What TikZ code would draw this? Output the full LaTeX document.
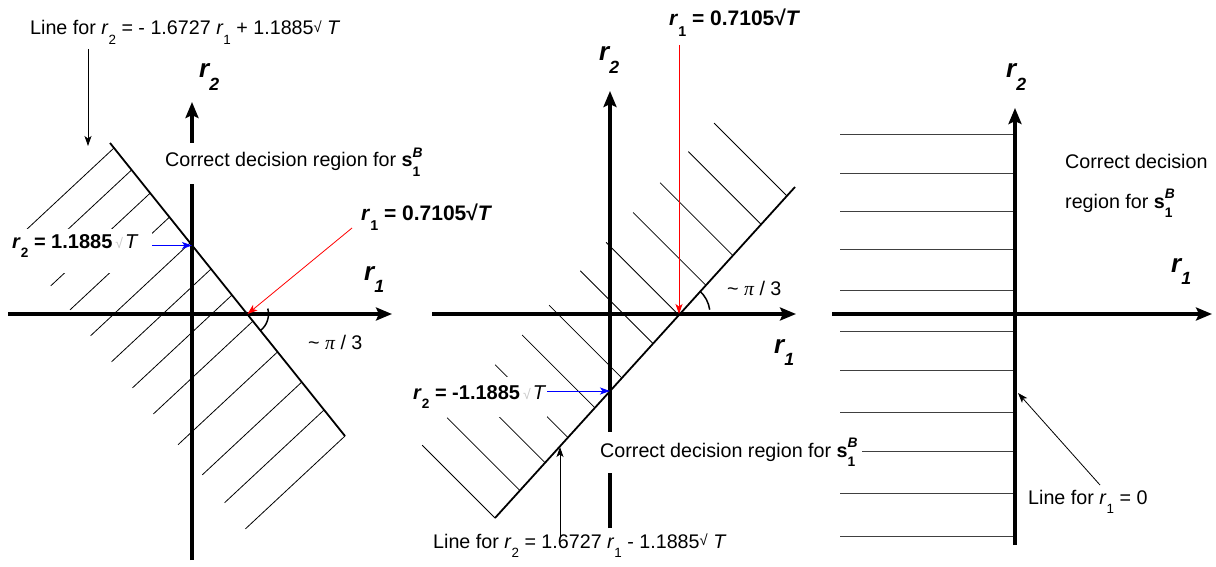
\documentclass[tikz,border=0pt]{standalone}
\usepackage{graphicx}
\usepackage{fontspec}
\setmainfont{Liberation Sans}
\newfontfamily\timesf{Liberation Serif}
\usetikzlibrary{arrows.meta,calc}
\newcommand\dn[1]{\raisebox{-0.48em}{\scalebox{0.68}{#1}}}
\newcommand\sB{\textbf{s}\rlap{\raisebox{0.47em}{\scalebox{0.7}{\bfseries\itshape B}}}\raisebox{-0.5em}{\scalebox{0.7}{\bfseries 1}}}
\newcommand\rt{\raisebox{0.15em}{\scalebox{0.75}{√}}}
\newcommand\fsq{\hspace{3pt}{\color{black!22}\mdseries\scalebox{0.7}{√}}\hspace{2pt}}
\begin{document}
\begin{tikzpicture}[x=1pt,y=1pt,
  axis/.style={line width=3.5pt,-{Stealth[length=16pt,width=13pt,inset=3pt]}},
  dline/.style={line width=1.8pt},
  hatch/.style={line width=0.8pt},
  hatchh/.style={line width=0.9pt,black!75},
  ann/.style={line width=0.8pt,-{Stealth[length=10pt,width=7pt,inset=2.5pt]}},
  angarc/.style={line width=1.5pt},
  txt/.style={font=\fontsize{19.7}{23}\selectfont, inner sep=0pt},
  btxt/.style={font=\fontsize{21}{24}\selectfont\bfseries, inner sep=0pt},
  bstxt/.style={font=\fontsize{20}{23}\selectfont\bfseries, inner sep=0pt},
  axl/.style={font=\fontsize{26}{30}\selectfont\bfseries\itshape, inner sep=0pt},
  wbox/.style={fill=white, draw=none, inner ysep=0pt},
]
\useasboundingbox (0,0) rectangle (1216,-567);

%%%%%%%%%%%%%%%% geometry
\coordinate (O1) at (192,-314);
\coordinate (D1a) at (110,-143);
\coordinate (D1b) at (345,-436);
\coordinate (X1) at (247.5,-314);
\coordinate (Y1) at (192,-245.5);
\coordinate (O2) at (610,-314);
\coordinate (D2a) at (495,-518);
\coordinate (D2b) at (795,-187);
\coordinate (X2) at (679,-314);
\coordinate (Y2) at (610,-391);
\coordinate (O3) at (1015,-314);

%%%%%%%%%%%%%%%% hatching
\foreach \t in {0.017,0.092,0.171,0.253,0.341,0.430,0.519,0.608,0.713,0.816,0.911,1.0}
  \draw[hatch] ($(D1a)!\t!(D1b)$) -- ++(-99.5,-92.8);
\foreach \t in {0.973,0.887,0.793,0.703,0.613,0.527,0.423,0.333,0.243,0.167,0.083,0.0}
  \draw[hatch] ($(D2a)!\t!(D2b)$) -- ++(-72.8,72.8);
\foreach \y in {134,173,211,249,290,331,370,412,451,493,536}
  \draw[hatchh] (840,-\y) -- (1013,-\y);

%%%%%%%%%%%%%%%% decision lines and axes
\draw[dline] (D1a) -- (D1b);
\draw[dline] (D2a) -- (D2b);
\draw[axis] (8,-314) -- (392,-314);
\draw[axis] (192,-560) -- (192,-102);
\draw[axis] (432,-314) -- (796,-314);
\draw[axis] (610,-528) -- (610,-91);
\draw[axis] (832,-314) -- (1212,-314);
\draw[axis] (1015,-545) -- (1015,-108);
\draw[angarc] ([shift={(15:21pt)}]X1) arc[start angle=15,end angle=-52,radius=21pt];
\draw[angarc] ([shift={(8:31pt)}]X2) arc[start angle=8,end angle=48,radius=31pt];

%%%%%%%%%%%%%%%% Panel 1 labels
\node[axl, anchor=base west] (ax1y) at (199,-78) {r\dn{2}};
\node[axl, anchor=base west] (ax1x) at (364,-280) {r\dn{1}};
\node[txt, anchor=base west] (lineA) at (30,-35)
  {Line for \textit{r}\dn{2} = - 1.6727 \textit{r}\dn{1} + 1.1885\rt\ \textit{T}};
\node[txt, wbox, anchor=base west, inner xsep=4pt, text height=24pt, text depth=17pt]
  (reg1) at (161,-167) {Correct decision region for \sB};
\node[bstxt, wbox, anchor=base west, inner xsep=7pt, text height=19pt, text depth=25pt]
  (lr21) at (5,-248) {\makebox[133pt][l]{\textit{r}\dn{2} = 1.1885\fsq\textit{\mdseries T}}};
\node[btxt, anchor=base west] (lr11) at (361,-220) {\textit{r}\dn{1} = 0.7105√\textit{T}};
\node[txt, anchor=base west] (ang1) at (308,-349) {\textasciitilde\ {\timesf\itshape π} / 3};

%%%%%%%%%%%%%%%% Panel 2 labels
\node[axl, anchor=base west] (ax2y) at (599,-61) {r\dn{2}};
\node[axl, anchor=base west] (ax2x) at (774,-353) {r\dn{1}};
\node[btxt, anchor=base west] (lr12) at (669,-26) {\textit{r}\dn{1} = 0.7105√\textit{T}};
\node[txt, anchor=base west] (ang2) at (727,-295) {\textasciitilde\ {\timesf\itshape π} / 3};
\node[bstxt, wbox, anchor=base west, inner xsep=3pt, text height=22pt, text depth=18pt]
  (lr22) at (410,-399) {\makebox[131pt][l]{\textit{r}\dn{2} = -1.1885\fsq\textit{\mdseries T}}};
\node[txt, wbox, anchor=base west, inner xsep=7pt, text height=25pt, text depth=16pt]
  (reg2) at (593,-457) {Correct decision region for \sB};
\node[txt, anchor=base west] (lineB) at (433,-548)
  {Line for \textit{r}\dn{2} = 1.6727 \textit{r}\dn{1} - 1.1885\rt\ \textit{T}};

%%%%%%%%%%%%%%%% Panel 3 labels
\node[axl, anchor=base west] (ax3y) at (1006,-78) {r\dn{2}};
\node[axl, anchor=base west] (ax3x) at (1171,-272) {r\dn{1}};
\node[txt, anchor=base west] (reg3a) at (1065,-168) {Correct decision};
\node[txt, anchor=base west] (reg3b) at (1065,-208) {region for \sB};
\node[txt, anchor=base west] (lineC) at (1028,-504) {Line for \textit{r}\dn{1} = 0};

%%%%%%%%%%%%%%%% annotation arrows
\coordinate (ta1) at (88,-49);
\coordinate (ta1e) at (88,-146);
\draw[ann] (ta1) -- (ta1e);
\draw[ann, blue] (lr21.east |- Y1) -- (Y1);
\coordinate (ra1) at (352,-228);
\draw[ann, red] (ra1) -- (X1);
\coordinate (ra2) at (679,-45);
\draw[ann, red] (ra2) -- (X2);
\draw[ann, blue] (lr22.east |- Y2) -- (Y2);
\coordinate (ba) at (560,-538);
\coordinate (bae) at (560,-447);
\draw[ann] (ba) -- (bae);
\coordinate (ca) at (1100,-485);
\coordinate (cae) at (1018,-393);
\draw[ann] (ca) -- (cae);
\end{tikzpicture}
\end{document}
